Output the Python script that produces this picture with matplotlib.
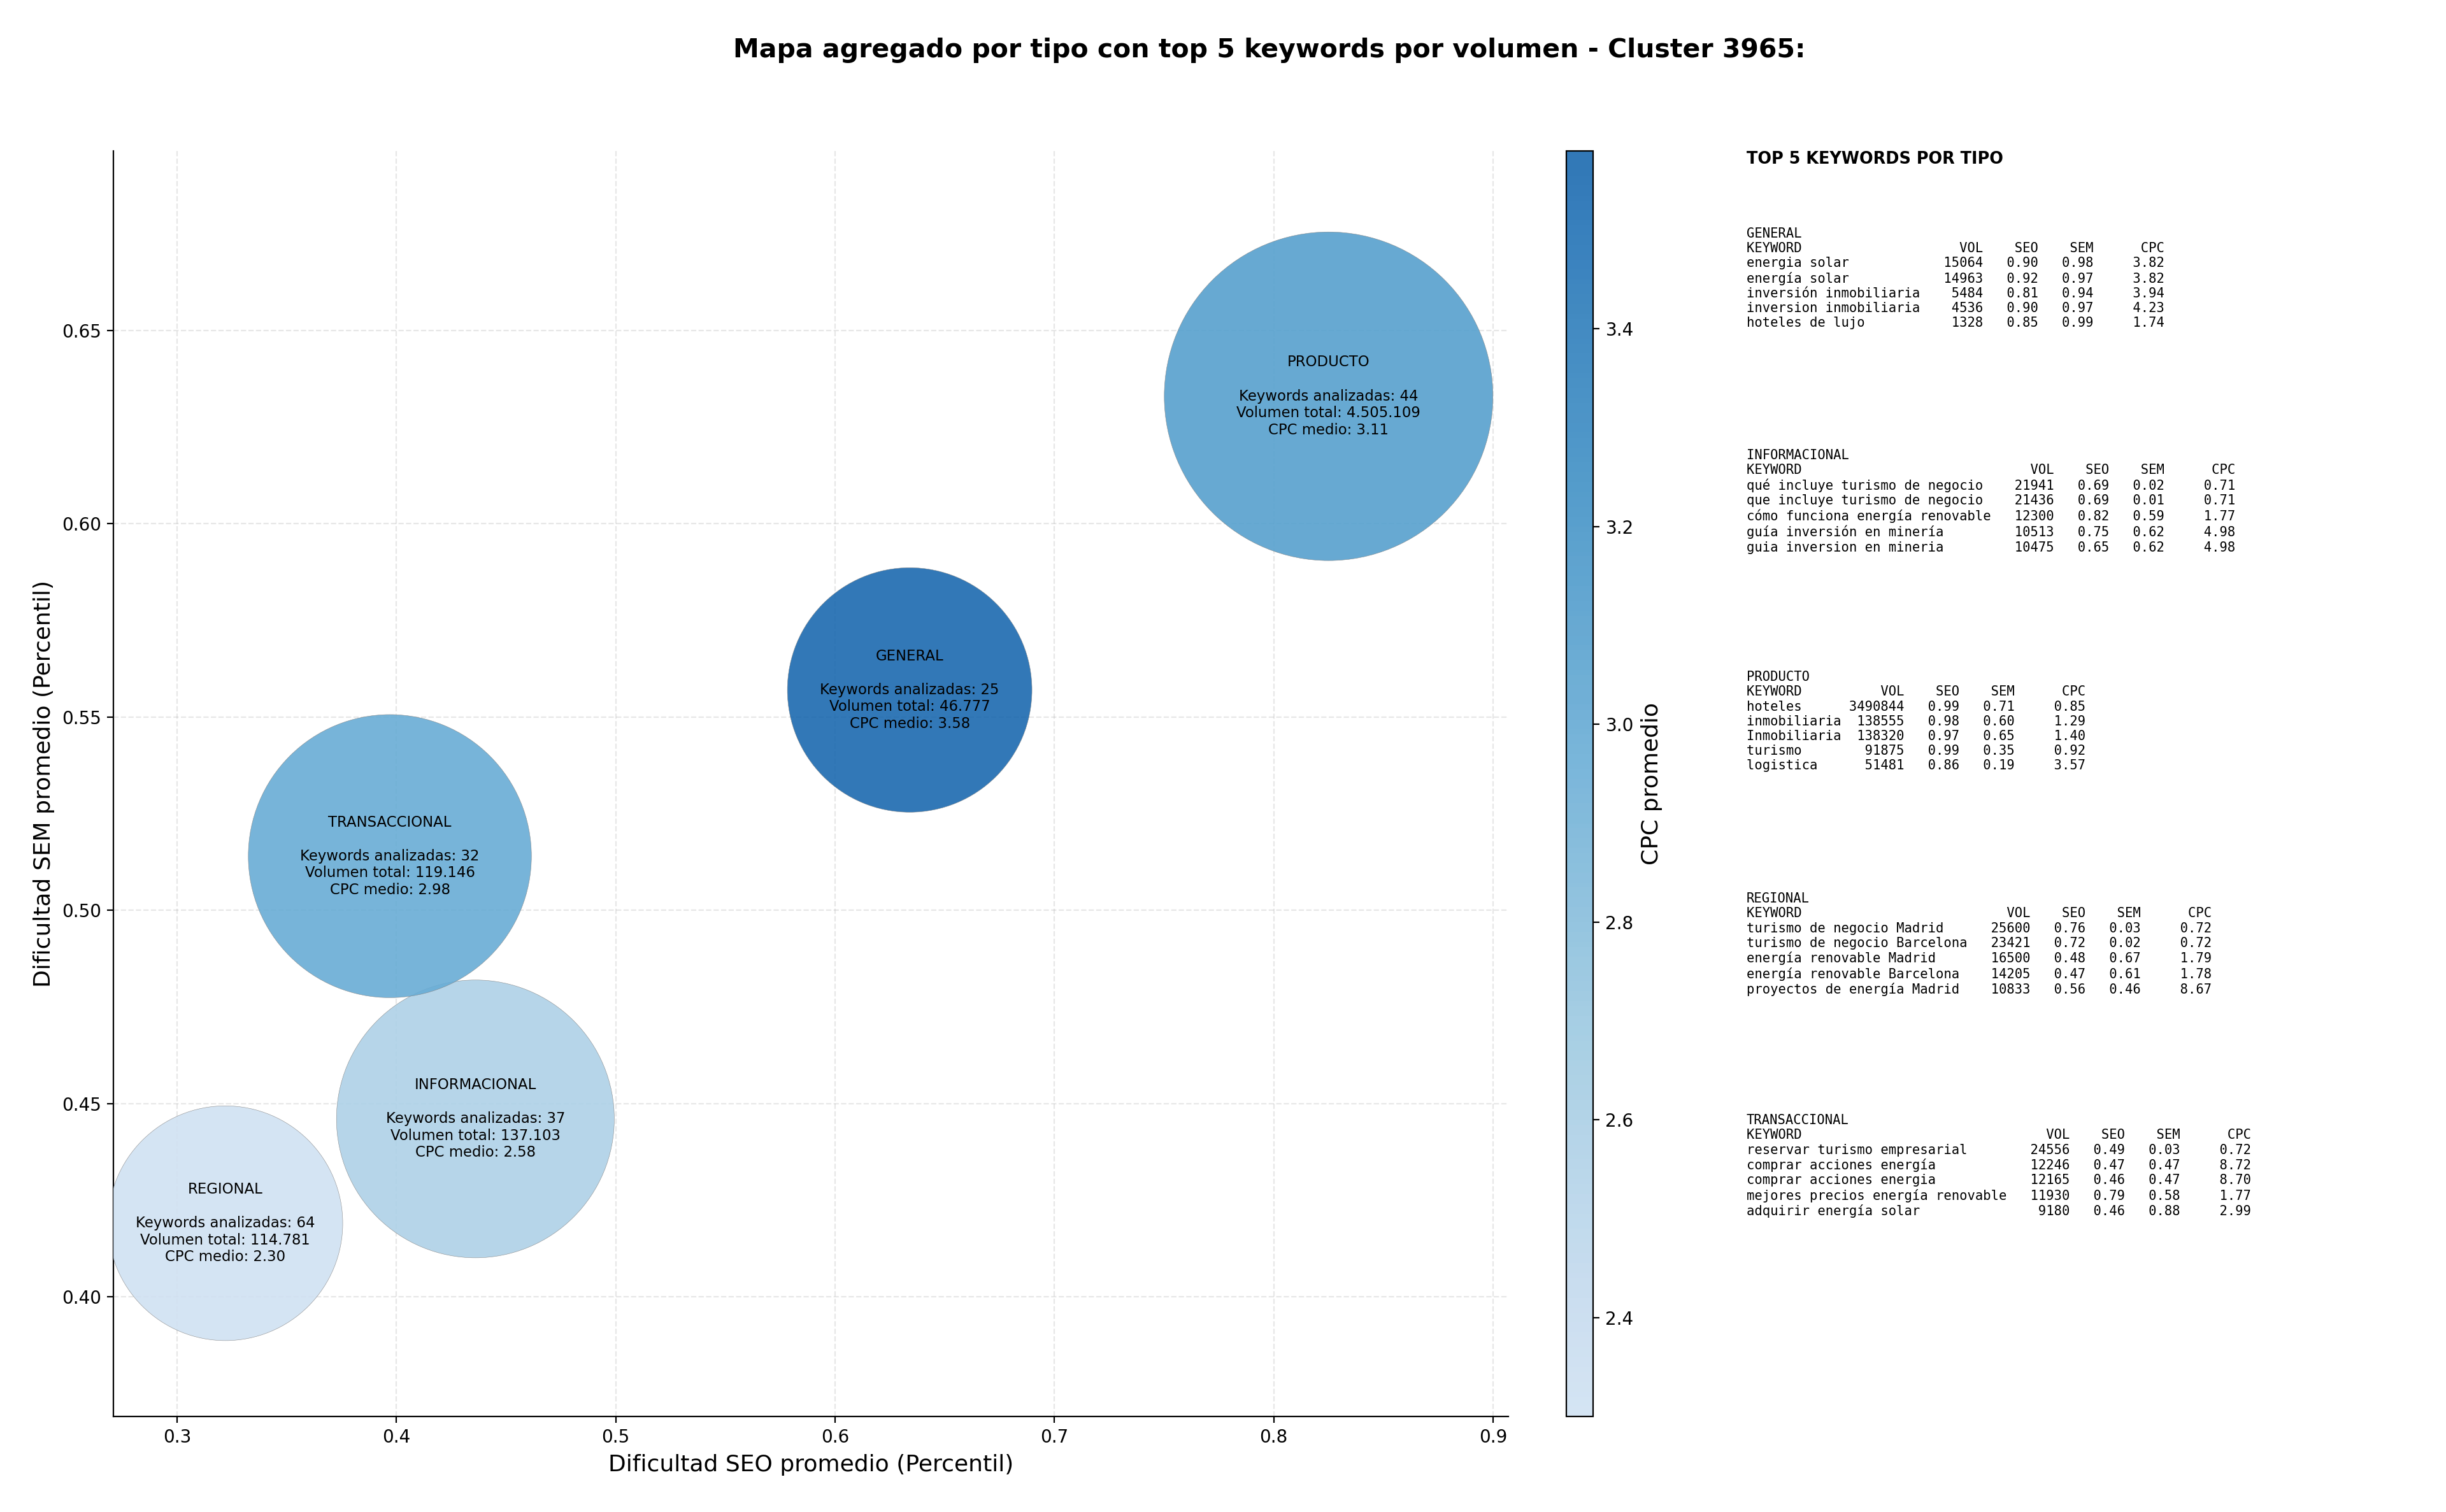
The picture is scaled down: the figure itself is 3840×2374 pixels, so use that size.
import numpy as np
import matplotlib
matplotlib.use("Agg")
import matplotlib.pyplot as plt
from matplotlib.colors import LinearSegmentedColormap, Normalize

# datos agregados por tipo
tipos = ["GENERAL", "INFORMACIONAL", "PRODUCTO", "REGIONAL", "TRANSACCIONAL"]
seo_medio = [0.634, 0.436, 0.825, 0.322, 0.397]
sem_medio = [0.557, 0.446, 0.633, 0.419, 0.514]
n_keywords = [25, 37, 44, 64, 32]
volumen_total = [46777, 137103, 4505109, 114781, 119146]
cpc_medio = [3.58, 2.58, 3.11, 2.30, 2.98]
tamano_burbuja = [19100, 24650, 34500, 17600, 25600]

# top 5 keywords por tipo: (keyword, vol, seo, sem, cpc)
top_general = [
    ("energia solar", 15064, 0.90, 0.98, 3.82),
    ("energía solar", 14963, 0.92, 0.97, 3.82),
    ("inversión inmobiliaria", 5484, 0.81, 0.94, 3.94),
    ("inversion inmobiliaria", 4536, 0.90, 0.97, 4.23),
    ("hoteles de lujo", 1328, 0.85, 0.99, 1.74),
]
top_informacional = [
    ("qué incluye turismo de negocio", 21941, 0.69, 0.02, 0.71),
    ("que incluye turismo de negocio", 21436, 0.69, 0.01, 0.71),
    ("cómo funciona energía renovable", 12300, 0.82, 0.59, 1.77),
    ("guía inversión en minería", 10513, 0.75, 0.62, 4.98),
    ("guia inversion en mineria", 10475, 0.65, 0.62, 4.98),
]
top_producto = [
    ("hoteles", 3490844, 0.99, 0.71, 0.85),
    ("inmobiliaria", 138555, 0.98, 0.60, 1.29),
    ("Inmobiliaria", 138320, 0.97, 0.65, 1.40),
    ("turismo", 91875, 0.99, 0.35, 0.92),
    ("logistica", 51481, 0.86, 0.19, 3.57),
]
top_regional = [
    ("turismo de negocio Madrid", 25600, 0.76, 0.03, 0.72),
    ("turismo de negocio Barcelona", 23421, 0.72, 0.02, 0.72),
    ("energía renovable Madrid", 16500, 0.48, 0.67, 1.79),
    ("energía renovable Barcelona", 14205, 0.47, 0.61, 1.78),
    ("proyectos de energía Madrid", 10833, 0.56, 0.46, 8.67),
]
top_transaccional = [
    ("reservar turismo empresarial", 24556, 0.49, 0.03, 0.72),
    ("comprar acciones energía", 12246, 0.47, 0.47, 8.72),
    ("comprar acciones energia", 12165, 0.46, 0.47, 8.70),
    ("mejores precios energía renovable", 11930, 0.79, 0.58, 1.77),
    ("adquirir energía solar", 9180, 0.46, 0.88, 2.99),
]
tops = [top_general, top_informacional, top_producto, top_regional, top_transaccional]

cmap = LinearSegmentedColormap.from_list("blues_cut", plt.cm.Blues(np.linspace(0.2, 0.78, 256)))
norm = Normalize(vmin=min(cpc_medio), vmax=max(cpc_medio))

fig = plt.figure(figsize=(19.2, 11.87), dpi=200)
ax = fig.add_axes([0.0464, 0.0632, 0.5703, 0.837])
cax = fig.add_axes([0.6404, 0.0632, 0.0109, 0.837])

sc = ax.scatter(seo_medio, sem_medio, s=tamano_burbuja, c=cpc_medio, cmap=cmap, norm=norm,
                alpha=0.9, edgecolors="grey", linewidths=0.2, zorder=3)

for i, t in enumerate(tipos):
    vol = f"{volumen_total[i]:,}".replace(",", ".")
    etiqueta = f"{t}\n\nKeywords analizadas: {n_keywords[i]}\nVolumen total: {vol}\nCPC medio: {cpc_medio[i]:.2f}"
    ax.text(seo_medio[i], sem_medio[i], etiqueta, ha="center", va="center", fontsize=8.2, zorder=4)

ax.set_xlim(0.271, 0.907)
ax.set_ylim(0.369, 0.6965)
ax.set_xticks([0.3, 0.4, 0.5, 0.6, 0.7, 0.8, 0.9])
ax.set_yticks([0.40, 0.45, 0.50, 0.55, 0.60, 0.65])
ax.grid(True, linestyle="--", alpha=0.3, zorder=0)
ax.spines["top"].set_visible(False)
ax.spines["right"].set_visible(False)
ax.tick_params(labelsize=10)
ax.set_xlabel("Dificultad SEO promedio (Percentil)", fontsize=13)
ax.set_ylabel("Dificultad SEM promedio (Percentil)", fontsize=13)

cb = fig.colorbar(sc, cax=cax)
cb.set_label("CPC promedio", fontsize=13)
cb.ax.tick_params(labelsize=10)

fig.suptitle("Mapa agregado por tipo con top 5 keywords por volumen - Cluster 3965:",
             fontsize=14.75, fontweight="bold", x=0.519, y=0.975)

# panel de texto con las top keywords
fig.text(0.714, 0.8947, "TOP 5 KEYWORDS POR TIPO", fontsize=9.2, fontweight="bold", va="center")
y0 = 0.8496
for i, t in enumerate(tipos):
    w = max(len(k[0]) for k in tops[i])
    lineas = [t, f"{'KEYWORD':<{w}} {'VOL':>7} {'SEO':>6} {'SEM':>6} {'CPC':>8}"]
    for kw, v, s1, s2, c in tops[i]:
        lineas.append(f"{kw:<{w}} {v:>7} {s1:>6.2f} {s2:>6.2f} {c:>8.2f}")
    fig.text(0.714, y0 - i * 0.1466, "\n".join(lineas), family="DejaVu Sans Mono",
             fontsize=7.4, va="top", ha="left")

fig.savefig("out.png", dpi=200)
